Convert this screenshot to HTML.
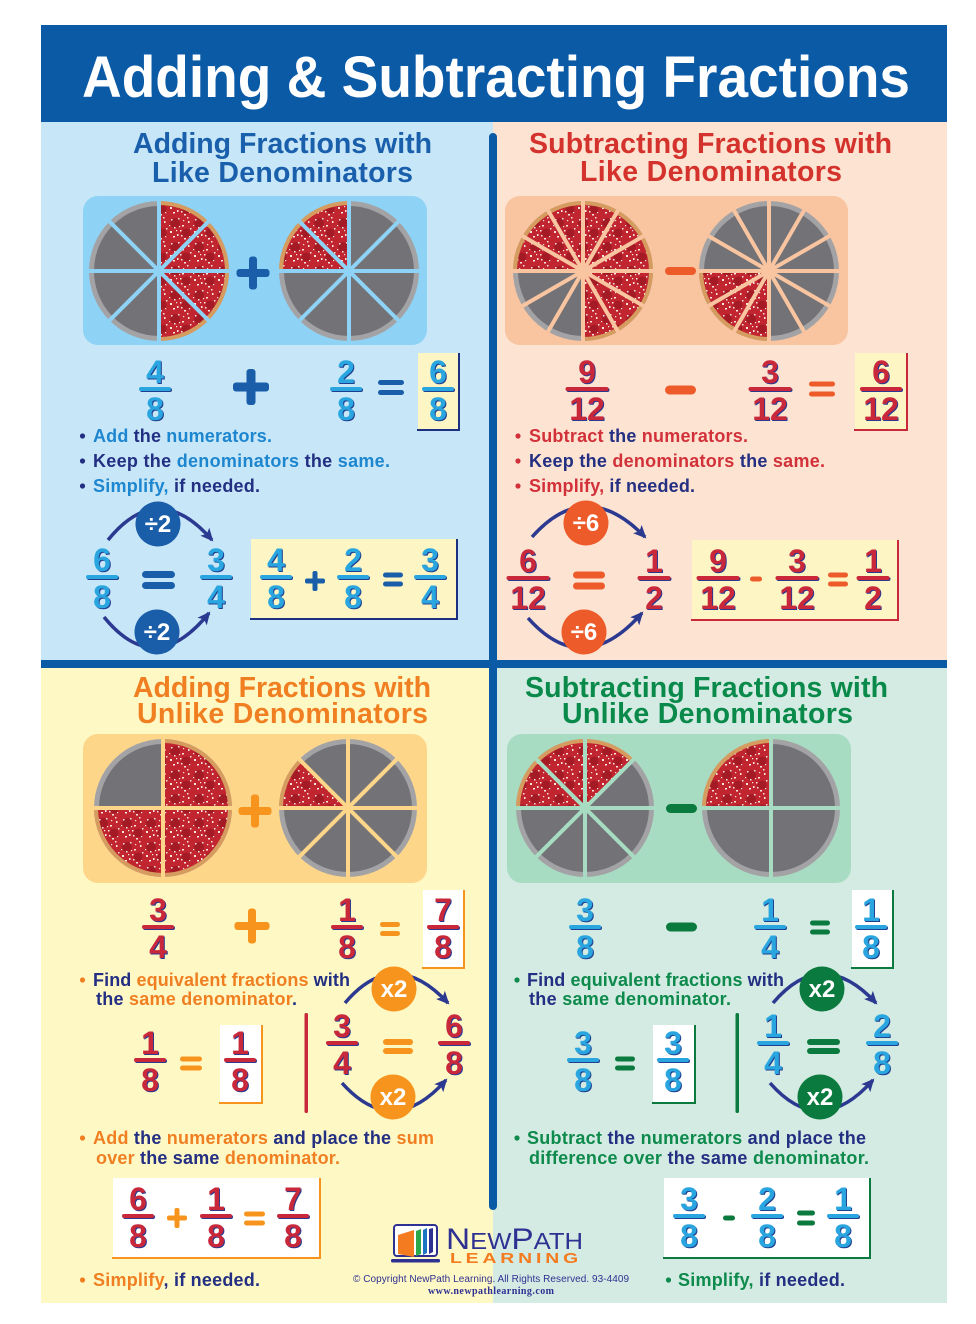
<!DOCTYPE html>
<html><head><meta charset="utf-8"><style>
body{margin:0;background:#fff}
svg{display:block}
.d{font-family:"Liberation Sans",sans-serif;font-weight:bold;font-size:32px;text-anchor:middle}
.fb{fill:#29a6e0;filter:drop-shadow(1.2px 1.5px 0 #213f8f)}
.fr{fill:#c9283b;filter:drop-shadow(1.2px 1.5px 0 #2b3990)}
.h{font-family:"Liberation Sans",sans-serif;font-weight:bold;font-size:28.5px}
.t{font-family:"Liberation Sans",sans-serif;font-weight:bold;font-size:18px}
.ct{font-family:"Liberation Sans",sans-serif;font-weight:bold;font-size:24px;fill:#fff;text-anchor:middle}
.nv{fill:#232f82}
.cb{fill:#1d86cf}.cr{fill:#d2313a}.co{fill:#f07f22}.cg{fill:#0d8a4c}
.arc{fill:none;stroke:#2b3990;stroke-width:3.5;marker-end:url(#ah)}
</style></head><body>
<svg width="976" height="1324" viewBox="0 0 976 1324" xmlns="http://www.w3.org/2000/svg">
<defs>
<pattern id="pz" width="24" height="24" patternUnits="userSpaceOnUse">
<rect width="24" height="24" fill="#c1252f"/>
<circle cx="7" cy="7" r="5" fill="#a51b25"/>
<circle cx="18" cy="17" r="4.5" fill="#a51b25"/>
<g fill="#f6e6e2">
<rect x="2" y="15" width="2" height="2"/><rect x="10" y="2" width="1.5" height="1.5"/><rect x="14" y="9" width="2" height="1.5"/>
<rect x="20" y="5" width="1.5" height="2"/><rect x="5" y="20" width="2" height="1.5"/><rect x="12" y="14" width="1.5" height="1.5"/>
<rect x="16" y="22" width="2" height="1.5"/><rect x="22" y="12" width="1.5" height="1.5"/><rect x="9" y="18" width="1.5" height="2"/>
<rect x="3" y="3" width="1.5" height="1.5"/><rect x="19" y="1" width="1.5" height="1.5"/><rect x="11" y="10" width="1.2" height="1.2"/>
<rect x="6" y="11" width="1.5" height="1.5"/><rect x="15" y="4" width="1.2" height="1.2"/><rect x="1" y="9" width="1.2" height="1.2"/>
<rect x="13" y="19" width="1.5" height="1.5"/><rect x="21" y="20" width="1.2" height="1.2"/><rect x="8" y="14" width="1.2" height="1.2"/>
</g>
</pattern>
<marker id="ah" markerWidth="14" markerHeight="12" refX="11" refY="6" orient="auto" markerUnits="userSpaceOnUse"><path d="M0,0 L13,6 L0,12 L3,6 z" fill="#2b3990"/></marker>
</defs>

<!-- backgrounds -->
<rect x="41" y="25" width="906" height="97" fill="#0b5aa6"/>
<rect x="41" y="122" width="452" height="538" fill="#c7e7f9"/>
<rect x="493" y="122" width="454" height="538" fill="#fde3d1"/>
<rect x="41" y="668" width="452" height="635" fill="#fef8c5"/>
<rect x="493" y="668" width="454" height="635" fill="#d3ebe2"/>
<rect x="41" y="660" width="906" height="8" fill="#0b5aa6"/>
<rect x="489" y="133" width="8" height="1077" rx="4" fill="#0b5aa6"/>

<text x="82" y="97" font-family="'Liberation Sans',sans-serif" font-weight="bold" font-size="58" fill="#fff" textLength="828" lengthAdjust="spacingAndGlyphs">Adding &amp; Subtracting Fractions</text>

<!-- headings -->
<text class="h" x="133" y="153" fill="#1a5fab" textLength="299">Adding Fractions with</text>
<text class="h" x="152" y="182" fill="#1a5fab" textLength="261">Like Denominators</text>
<text class="h" x="529" y="153" fill="#d4322c" textLength="363">Subtracting Fractions with</text>
<text class="h" x="580" y="181" fill="#d4322c" textLength="262">Like Denominators</text>
<text class="h" x="133" y="697" fill="#f07f22" textLength="298">Adding Fractions with</text>
<text class="h" x="137" y="723" fill="#f07f22" textLength="291">Unlike Denominators</text>
<text class="h" x="525" y="697" fill="#0a8a4a" textLength="363">Subtracting Fractions with</text>
<text class="h" x="562" y="723" fill="#0a8a4a" textLength="291">Unlike Denominators</text>

<!-- pizza boxes -->
<rect x="83" y="196" width="344" height="149" rx="15" fill="#8ed3f6"/>
<rect x="505" y="196" width="343" height="149" rx="15" fill="#f9c4a0"/>
<rect x="83" y="734" width="344" height="149" rx="15" fill="#fdd68a"/>
<rect x="507" y="734" width="344" height="149" rx="15" fill="#a8dcc2"/>

<!-- TL pizzas -->
<circle cx="159" cy="271" r="70" fill="#a3a3a6"/><circle cx="159" cy="271" r="65" fill="#737377"/>
<path d="M159,271 L159,201 A70,70 0 0 1 159,341 Z" fill="#d69b5f"/>
<path d="M159,271 L159,205 A66,66 0 0 1 159,337 Z" fill="url(#pz)"/>
<g stroke="#8ed3f6" stroke-width="4"><line x1="159" y1="201" x2="159" y2="341"/><line x1="89" y1="271" x2="229" y2="271"/><line x1="208.5" y1="221.5" x2="109.5" y2="320.5"/><line x1="208.5" y1="320.5" x2="109.5" y2="221.5"/></g>
<circle cx="349" cy="271" r="70" fill="#a3a3a6"/><circle cx="349" cy="271" r="65" fill="#737377"/>
<path d="M349,271 L279,271 A70,70 0 0 1 349,201 Z" fill="#d69b5f"/>
<path d="M349,271 L283,271 A66,66 0 0 1 349,205 Z" fill="url(#pz)"/>
<g stroke="#8ed3f6" stroke-width="4"><line x1="349" y1="201" x2="349" y2="341"/><line x1="279" y1="271" x2="419" y2="271"/><line x1="398.5" y1="221.5" x2="299.5" y2="320.5"/><line x1="398.5" y1="320.5" x2="299.5" y2="221.5"/></g>
<g fill="#1a5da9"><rect x="236.5" y="269" width="33" height="8" rx="3"/><rect x="249" y="256.5" width="8" height="33" rx="3"/></g>

<!-- TR pizzas -->
<circle cx="583" cy="271" r="70" fill="#a3a3a6"/><circle cx="583" cy="271" r="65" fill="#737377"/>
<path d="M583,271 L513,271 A70,70 0 1 1 583,341 Z" fill="#d69b5f"/>
<path d="M583,271 L517,271 A66,66 0 1 1 583,337 Z" fill="url(#pz)"/>
<g stroke="#f9c4a0" stroke-width="4"><line x1="583" y1="201" x2="583" y2="341"/><line x1="618" y1="210.4" x2="548" y2="331.6"/><line x1="643.6" y1="236" x2="522.4" y2="306"/><line x1="653" y1="271" x2="513" y2="271"/><line x1="643.6" y1="306" x2="522.4" y2="236"/><line x1="618" y1="331.6" x2="548" y2="210.4"/></g>
<circle cx="769" cy="271" r="70" fill="#a3a3a6"/><circle cx="769" cy="271" r="65" fill="#737377"/>
<path d="M769,271 L769,341 A70,70 0 0 1 699,271 Z" fill="#d69b5f"/>
<path d="M769,271 L769,337 A66,66 0 0 1 703,271 Z" fill="url(#pz)"/>
<g stroke="#f9c4a0" stroke-width="4"><line x1="769" y1="201" x2="769" y2="341"/><line x1="804" y1="210.4" x2="734" y2="331.6"/><line x1="829.6" y1="236" x2="708.4" y2="306"/><line x1="839" y1="271" x2="699" y2="271"/><line x1="829.6" y1="306" x2="708.4" y2="236"/><line x1="804" y1="331.6" x2="734" y2="210.4"/></g>
<rect x="665" y="267" width="31" height="8" rx="4" fill="#ee5b2b"/>

<!-- BL pizzas -->
<circle cx="163" cy="808" r="69" fill="#a3a3a6"/><circle cx="163" cy="808" r="64" fill="#737377"/>
<path d="M163,808 L163,739 A69,69 0 1 1 94,808 Z" fill="#d69b5f"/>
<path d="M163,808 L163,743 A65,65 0 1 1 98,808 Z" fill="url(#pz)"/>
<g stroke="#fdd68a" stroke-width="4"><line x1="163" y1="739" x2="163" y2="877"/><line x1="94" y1="808" x2="232" y2="808"/></g>
<circle cx="348" cy="808" r="69" fill="#a3a3a6"/><circle cx="348" cy="808" r="64" fill="#737377"/>
<path d="M348,808 L279,808 A69,69 0 0 1 299.2,759.2 Z" fill="#d69b5f"/>
<path d="M348,808 L283,808 A65,65 0 0 1 302,762 Z" fill="url(#pz)"/>
<g stroke="#fdd68a" stroke-width="4"><line x1="348" y1="739" x2="348" y2="877"/><line x1="279" y1="808" x2="417" y2="808"/><line x1="396.8" y1="759.2" x2="299.2" y2="856.8"/><line x1="396.8" y1="856.8" x2="299.2" y2="759.2"/></g>
<g fill="#f7941d"><rect x="238.5" y="807" width="33" height="8" rx="3"/><rect x="251" y="794.5" width="8" height="33" rx="3"/></g>

<!-- BR pizzas -->
<circle cx="585" cy="808" r="69" fill="#a3a3a6"/><circle cx="585" cy="808" r="64" fill="#737377"/>
<path d="M585,808 L516,808 A69,69 0 0 1 633.8,759.2 Z" fill="#d69b5f"/>
<path d="M585,808 L520,808 A65,65 0 0 1 631,762 Z" fill="url(#pz)"/>
<g stroke="#a8dcc2" stroke-width="4"><line x1="585" y1="739" x2="585" y2="877"/><line x1="516" y1="808" x2="654" y2="808"/><line x1="633.8" y1="759.2" x2="536.2" y2="856.8"/><line x1="633.8" y1="856.8" x2="536.2" y2="759.2"/></g>
<circle cx="771" cy="808" r="69" fill="#a3a3a6"/><circle cx="771" cy="808" r="64" fill="#737377"/>
<path d="M771,808 L702,808 A69,69 0 0 1 771,739 Z" fill="#d69b5f"/>
<path d="M771,808 L706,808 A65,65 0 0 1 771,743 Z" fill="url(#pz)"/>
<g stroke="#a8dcc2" stroke-width="4"><line x1="771" y1="739" x2="771" y2="877"/><line x1="702" y1="808" x2="840" y2="808"/></g>
<rect x="666" y="804" width="31" height="9" rx="4.5" fill="#0b7a3e"/>

<!-- boxes -->
<rect x="418" y="353" width="41" height="77" fill="#fdf5c4"/><path d="M459,353 V431 M417,430 H460" stroke="#1c2f80" stroke-width="2"/>
<rect x="251" y="539" width="206" height="80" fill="#fdf5c4"/><path d="M457,539 V620 M250,619 H458" stroke="#1c2f80" stroke-width="2"/>
<rect x="855" y="353" width="52" height="77" fill="#fdf5c4"/><path d="M907,353 V431 M854,430 H908" stroke="#c8283a" stroke-width="2"/>
<rect x="692" y="540" width="206" height="80" fill="#fdf5c4"/><path d="M898,540 V621 M691,620 H899" stroke="#c8283a" stroke-width="2"/>
<rect x="423" y="890" width="41" height="78" fill="#fff"/><path d="M464,890 V969 M422,968 H465" stroke="#f7941d" stroke-width="2"/>
<rect x="220" y="1025" width="42" height="78" fill="#fff"/><path d="M262,1025 V1104 M219,1103 H263" stroke="#f7941d" stroke-width="2"/>
<rect x="113" y="1178" width="207" height="80" fill="#fff"/><path d="M320,1178 V1259 M112,1258 H321" stroke="#f7941d" stroke-width="2"/>
<rect x="852" y="890" width="41" height="78" fill="#fff"/><path d="M893,890 V969 M851,968 H894" stroke="#0b7a3e" stroke-width="2"/>
<rect x="653" y="1025" width="42" height="78" fill="#fff"/><path d="M695,1025 V1104 M652,1103 H696" stroke="#0b7a3e" stroke-width="2"/>
<rect x="664" y="1178" width="206" height="80" fill="#fff"/><path d="M870,1178 V1259 M663,1258 H871" stroke="#0b7a3e" stroke-width="2"/>

<!-- vertical lines -->
<rect x="304.5" y="1013" width="3.5" height="100" rx="1.5" fill="#c8283a"/>
<rect x="735.5" y="1013" width="3.5" height="100" rx="1.5" fill="#0b7a3e"/>

<!-- operators TL -->
<g fill="#1a5da9">
<rect x="233" y="382.5" width="36" height="9" rx="3"/><rect x="246.5" y="369" width="9" height="36" rx="3"/>
<rect x="378" y="380" width="26" height="5" rx="2.5"/><rect x="378" y="390" width="26" height="5" rx="2.5"/>
<rect x="142" y="571" width="33" height="7" rx="3.5"/><rect x="142" y="582" width="33" height="7" rx="3.5"/>
<rect x="383" y="572.5" width="20" height="5" rx="2.5"/><rect x="383" y="581.5" width="20" height="5" rx="2.5"/>
<rect x="305" y="578.5" width="20" height="5" rx="2"/><rect x="312.5" y="571" width="5" height="20" rx="2"/>
</g>
<!-- operators TR -->
<g fill="#ee5b2b">
<rect x="665" y="385.5" width="31" height="9" rx="4.5"/>
<rect x="809" y="381.5" width="26" height="5" rx="2.5"/><rect x="809" y="391.5" width="26" height="5" rx="2.5"/>
<rect x="573" y="571.5" width="32" height="7" rx="3.5"/><rect x="573" y="582.5" width="32" height="7" rx="3.5"/>
<rect x="750" y="576.5" width="12" height="5" rx="2.5"/>
<rect x="828" y="572.5" width="20" height="5" rx="2.5"/><rect x="828" y="581.5" width="20" height="5" rx="2.5"/>
</g>
<!-- operators BL -->
<g fill="#f7941d">
<rect x="234.5" y="922" width="35" height="8" rx="3"/><rect x="248" y="908.5" width="8" height="35" rx="3"/>
<rect x="380" y="922" width="20" height="5" rx="2.5"/><rect x="380" y="931" width="20" height="5" rx="2.5"/>
<rect x="180" y="1056.5" width="22" height="5" rx="2.5"/><rect x="180" y="1065.5" width="22" height="5" rx="2.5"/>
<rect x="383" y="1039" width="30" height="6" rx="3"/><rect x="383" y="1048" width="30" height="6" rx="3"/>
<rect x="167" y="1215.5" width="20" height="5" rx="2"/><rect x="174.5" y="1208" width="5" height="20" rx="2"/>
<rect x="244" y="1211.5" width="21" height="5" rx="2.5"/><rect x="244" y="1220.5" width="21" height="5" rx="2.5"/>
</g>
<!-- operators BR -->
<g fill="#0b7a3e">
<rect x="666" y="922.5" width="31" height="9" rx="4.5"/>
<rect x="810" y="920.5" width="20" height="5" rx="2.5"/><rect x="810" y="929.5" width="20" height="5" rx="2.5"/>
<rect x="615" y="1056.5" width="20" height="5" rx="2.5"/><rect x="615" y="1065.5" width="20" height="5" rx="2.5"/>
<rect x="807" y="1039" width="33" height="6" rx="3"/><rect x="807" y="1048" width="33" height="6" rx="3"/>
<rect x="723" y="1215.5" width="12" height="5" rx="2.5"/>
<rect x="797" y="1210.5" width="18" height="5" rx="2.5"/><rect x="797" y="1220.5" width="18" height="5" rx="2.5"/>
</g>

<!-- arcs -->
<path class="arc" d="M108,540 Q158,478 212,540"/><path class="arc" d="M104,617 Q155,680 209,613"/>
<path class="arc" d="M532,537 Q586,476 645,537"/><path class="arc" d="M528,618 Q583,680 642,613"/>
<path class="arc" d="M345,1003 Q394,945 448,1003"/><path class="arc" d="M342,1083 Q393,1140 446,1080"/>
<path class="arc" d="M773,1003 Q822,945 876,1003"/><path class="arc" d="M770,1083 Q820,1140 873,1080"/>

<!-- circles -->
<circle cx="158" cy="524" r="22.5" fill="#1a5da9"/><text class="ct" x="158" y="532">÷2</text>
<circle cx="157" cy="632" r="22.5" fill="#1a5da9"/><text class="ct" x="157" y="640">÷2</text>
<circle cx="586" cy="523" r="22.5" fill="#ee5b2b"/><text class="ct" x="586" y="531">÷6</text>
<circle cx="584" cy="632" r="22.5" fill="#ee5b2b"/><text class="ct" x="584" y="640">÷6</text>
<circle cx="394" cy="989" r="22.5" fill="#f7941d"/><text class="ct" x="394" y="997">x2</text>
<circle cx="393" cy="1097" r="22.5" fill="#f7941d"/><text class="ct" x="393" y="1105">x2</text>
<circle cx="822" cy="989" r="22.5" fill="#0b7a3e"/><text class="ct" x="822" y="997">x2</text>
<circle cx="820" cy="1097" r="22.5" fill="#0b7a3e"/><text class="ct" x="820" y="1105">x2</text>

<!-- fractions TL -->
<g class="fb">
<text class="d" x="155" y="383">4</text><rect x="139" y="387" width="32" height="4" rx="2"/><text class="d" x="155" y="420">8</text>
<text class="d" x="346" y="383">2</text><rect x="330" y="387" width="32" height="4" rx="2"/><text class="d" x="346" y="420">8</text>
<text class="d" x="438" y="383">6</text><rect x="422" y="387" width="32" height="4" rx="2"/><text class="d" x="438" y="420">8</text>
<text class="d" x="102" y="571">6</text><rect x="86" y="575" width="32" height="4" rx="2"/><text class="d" x="102" y="608">8</text>
<text class="d" x="216" y="571">3</text><rect x="200" y="575" width="32" height="4" rx="2"/><text class="d" x="216" y="608">4</text>
<text class="d" x="276" y="571">4</text><rect x="260" y="575" width="32" height="4" rx="2"/><text class="d" x="276" y="608">8</text>
<text class="d" x="353" y="571">2</text><rect x="337" y="575" width="32" height="4" rx="2"/><text class="d" x="353" y="608">8</text>
<text class="d" x="430" y="571">3</text><rect x="414" y="575" width="32" height="4" rx="2"/><text class="d" x="430" y="608">4</text>
</g>
<!-- fractions TR -->
<g class="fr">
<text class="d" x="587" y="383">9</text><rect x="565.5" y="387" width="43" height="4" rx="2"/><text class="d" x="587" y="420">12</text>
<text class="d" x="770" y="383">3</text><rect x="748.5" y="387" width="43" height="4" rx="2"/><text class="d" x="770" y="420">12</text>
<text class="d" x="881" y="383">6</text><rect x="860" y="387" width="42" height="4" rx="2"/><text class="d" x="881" y="420">12</text>
<text class="d" x="528" y="572">6</text><rect x="506.5" y="576" width="43" height="4" rx="2"/><text class="d" x="528" y="609">12</text>
<text class="d" x="654" y="572">1</text><rect x="637.5" y="576" width="33" height="4" rx="2"/><text class="d" x="654" y="609">2</text>
<text class="d" x="718" y="572">9</text><rect x="696.5" y="576" width="43" height="4" rx="2"/><text class="d" x="718" y="609">12</text>
<text class="d" x="797" y="572">3</text><rect x="775.5" y="576" width="43" height="4" rx="2"/><text class="d" x="797" y="609">12</text>
<text class="d" x="873" y="572">1</text><rect x="856.5" y="576" width="33" height="4" rx="2"/><text class="d" x="873" y="609">2</text>
</g>
<!-- fractions BL -->
<g class="fr">
<text class="d" x="158" y="921">3</text><rect x="142" y="925" width="32" height="4" rx="2"/><text class="d" x="158" y="958">4</text>
<text class="d" x="347" y="921">1</text><rect x="331" y="925" width="32" height="4" rx="2"/><text class="d" x="347" y="958">8</text>
<text class="d" x="443" y="921">7</text><rect x="427" y="925" width="32" height="4" rx="2"/><text class="d" x="443" y="958">8</text>
<text class="d" x="150" y="1054">1</text><rect x="134" y="1058" width="32" height="4" rx="2"/><text class="d" x="150" y="1091">8</text>
<text class="d" x="240" y="1054">1</text><rect x="224" y="1058" width="32" height="4" rx="2"/><text class="d" x="240" y="1091">8</text>
<text class="d" x="342" y="1037">3</text><rect x="326" y="1041" width="32" height="4" rx="2"/><text class="d" x="342" y="1074">4</text>
<text class="d" x="454" y="1037">6</text><rect x="438" y="1041" width="32" height="4" rx="2"/><text class="d" x="454" y="1074">8</text>
<text class="d" x="138" y="1210">6</text><rect x="122" y="1214" width="32" height="4" rx="2"/><text class="d" x="138" y="1247">8</text>
<text class="d" x="216" y="1210">1</text><rect x="200" y="1214" width="32" height="4" rx="2"/><text class="d" x="216" y="1247">8</text>
<text class="d" x="293" y="1210">7</text><rect x="277" y="1214" width="32" height="4" rx="2"/><text class="d" x="293" y="1247">8</text>
</g>
<!-- fractions BR -->
<g class="fb">
<text class="d" x="585" y="921">3</text><rect x="569" y="925" width="32" height="4" rx="2"/><text class="d" x="585" y="958">8</text>
<text class="d" x="770" y="921">1</text><rect x="754" y="925" width="32" height="4" rx="2"/><text class="d" x="770" y="958">4</text>
<text class="d" x="871" y="921">1</text><rect x="855" y="925" width="32" height="4" rx="2"/><text class="d" x="871" y="958">8</text>
<text class="d" x="583" y="1054">3</text><rect x="567" y="1058" width="32" height="4" rx="2"/><text class="d" x="583" y="1091">8</text>
<text class="d" x="673" y="1054">3</text><rect x="657" y="1058" width="32" height="4" rx="2"/><text class="d" x="673" y="1091">8</text>
<text class="d" x="773" y="1037">1</text><rect x="757" y="1041" width="32" height="4" rx="2"/><text class="d" x="773" y="1074">4</text>
<text class="d" x="882" y="1037">2</text><rect x="866" y="1041" width="32" height="4" rx="2"/><text class="d" x="882" y="1074">8</text>
<text class="d" x="689" y="1210">3</text><rect x="673" y="1214" width="32" height="4" rx="2"/><text class="d" x="689" y="1247">8</text>
<text class="d" x="767" y="1210">2</text><rect x="751" y="1214" width="32" height="4" rx="2"/><text class="d" x="767" y="1247">8</text>
<text class="d" x="843" y="1210">1</text><rect x="827" y="1214" width="32" height="4" rx="2"/><text class="d" x="843" y="1247">8</text>
</g>

<!-- bullets TL -->
<g fill="#232f82"><circle cx="82.5" cy="436" r="2.6"/><circle cx="82.5" cy="461" r="2.6"/><circle cx="82.5" cy="486" r="2.6"/></g>
<text class="t" x="93" y="442" textLength="179"><tspan class="cb">Add</tspan><tspan class="nv"> the </tspan><tspan class="cb">numerators.</tspan></text>
<text class="t" x="93" y="467" textLength="297"><tspan class="nv">Keep the </tspan><tspan class="cb">denominators</tspan><tspan class="nv"> the </tspan><tspan class="cb">same.</tspan></text>
<text class="t" x="93" y="492" textLength="167"><tspan class="cb">Simplify,</tspan><tspan class="nv"> if needed.</tspan></text>
<!-- bullets TR -->
<g fill="#d2313a"><circle cx="518" cy="436" r="2.6"/><circle cx="518" cy="461" r="2.6"/><circle cx="518" cy="486" r="2.6"/></g>
<text class="t" x="529" y="442" textLength="219"><tspan class="cr">Subtract</tspan><tspan class="nv"> the </tspan><tspan class="cr">numerators.</tspan></text>
<text class="t" x="529" y="467" textLength="296"><tspan class="nv">Keep the </tspan><tspan class="cr">denominators</tspan><tspan class="nv"> the </tspan><tspan class="cr">same.</tspan></text>
<text class="t" x="529" y="492" textLength="166"><tspan class="cr">Simplify,</tspan><tspan class="nv"> if needed.</tspan></text>
<!-- bullets BL -->
<g fill="#f07f22"><circle cx="82.5" cy="980" r="2.6"/><circle cx="82.5" cy="1138" r="2.6"/><circle cx="82.5" cy="1280" r="2.6"/></g>
<text class="t" x="93" y="986" textLength="257"><tspan class="nv">Find </tspan><tspan class="co">equivalent fractions </tspan><tspan class="nv">with</tspan></text>
<text class="t" x="96" y="1005" textLength="201"><tspan class="nv">the </tspan><tspan class="co">same denominator</tspan><tspan class="nv">.</tspan></text>
<text class="t" x="93" y="1144" textLength="341"><tspan class="co">Add </tspan><tspan class="nv">the </tspan><tspan class="co">numerators </tspan><tspan class="nv">and place the </tspan><tspan class="co">sum</tspan></text>
<text class="t" x="96" y="1164" textLength="244"><tspan class="co">over </tspan><tspan class="nv">the same </tspan><tspan class="co">denominator.</tspan></text>
<text class="t" x="93" y="1286" textLength="167"><tspan class="co">Simplify</tspan><tspan class="nv">, if needed.</tspan></text>
<!-- bullets BR -->
<g fill="#0d8a4c"><circle cx="517" cy="980" r="2.6"/><circle cx="517" cy="1138" r="2.6"/><circle cx="668.5" cy="1280" r="2.6"/></g>
<text class="t" x="527" y="986" textLength="257"><tspan class="nv">Find </tspan><tspan class="cg">equivalent fractions </tspan><tspan class="nv">with</tspan></text>
<text class="t" x="529" y="1005" textLength="202"><tspan class="nv">the </tspan><tspan class="cg">same denominator.</tspan></text>
<text class="t" x="527" y="1144" textLength="339"><tspan class="cg">Subtract </tspan><tspan class="nv">the </tspan><tspan class="cg">numerators </tspan><tspan class="nv">and place the</tspan></text>
<text class="t" x="529" y="1164" textLength="340"><tspan class="cg">difference over </tspan><tspan class="nv">the same </tspan><tspan class="cg">denominator.</tspan></text>
<text class="t" x="678" y="1286" textLength="167"><tspan class="cg">Simplify,</tspan><tspan class="nv"> if needed.</tspan></text>

<!-- logo -->
<rect x="394" y="1225" width="43" height="31" rx="3" fill="#fff" stroke="#2e3192" stroke-width="2"/>
<polygon points="398,1235 414,1230 414,1257 398,1254" fill="#f47b20"/>
<polygon points="416,1231 421,1229 421,1254 416,1256" fill="#2aa84a"/>
<polygon points="423,1230 427,1228 427,1253 423,1255" fill="#1d74c1"/>
<polygon points="429,1229 433,1228 433,1252 429,1254" fill="#2e3192"/>
<rect x="391" y="1259" width="49" height="3.5" rx="1.5" fill="#2e3192"/>
<text x="446" y="1249" font-family="'Liberation Sans',sans-serif" fill="#2e3192" textLength="137" lengthAdjust="spacingAndGlyphs"><tspan font-size="30">N</tspan><tspan font-size="23">EW</tspan><tspan font-size="30">P</tspan><tspan font-size="23">ATH</tspan></text>
<text x="450" y="1263" font-family="'Liberation Sans',sans-serif" font-weight="bold" font-size="15" letter-spacing="3" fill="#f47b20" textLength="132" lengthAdjust="spacingAndGlyphs">LEARNING</text>
<text x="353" y="1282" font-family="'Liberation Sans',sans-serif" font-size="10" fill="#2e3192" textLength="276">© Copyright NewPath Learning. All Rights Reserved. 93-4409</text>
<text x="428" y="1294" font-family="'Liberation Serif',serif" font-weight="bold" font-size="10" fill="#2e3192" textLength="126">www.newpathlearning.com</text>
</svg>
</body></html>
